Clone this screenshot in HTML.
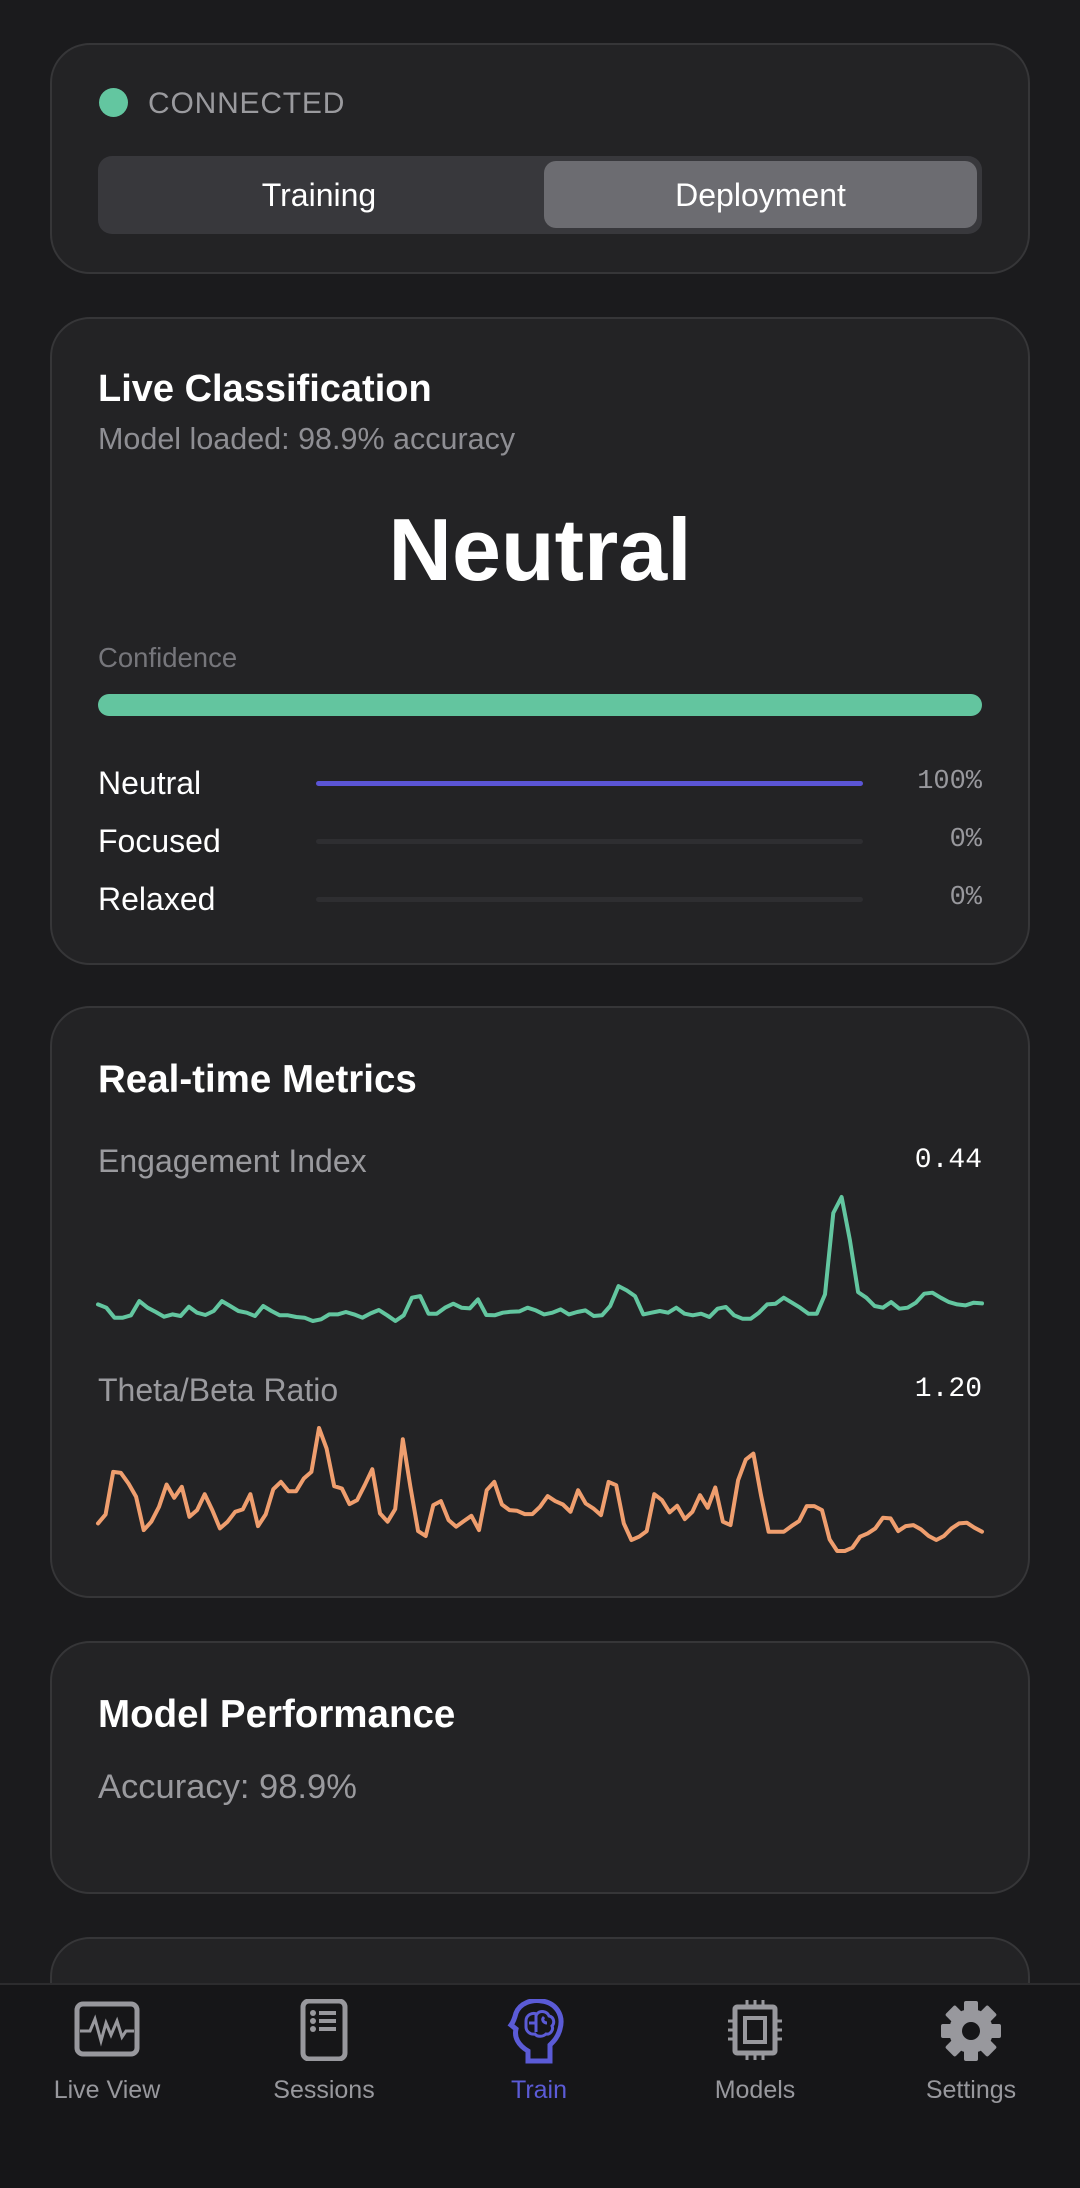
<!DOCTYPE html>
<html><head><meta charset="utf-8">
<style>
*{margin:0;padding:0;box-sizing:border-box}
body{width:1080px;height:2188px;background:#1b1b1d;font-family:"Liberation Sans",sans-serif;position:relative;overflow:hidden;color:#fff}
.card{position:absolute;left:50px;width:980px;background:#232325;border:2px solid #363638;border-radius:40px}
.t{position:absolute;white-space:nowrap;line-height:1}
.mono{font-family:"Liberation Mono",monospace}
.track{position:absolute;left:315px;width:547px;height:5px;border-radius:3px;background:#2e2e31}
.tab{position:absolute;top:1999px;width:180px;height:130px;text-align:center;color:#98989d;font-size:25px}
.tab svg{display:block;margin:0 auto}
.tab span{position:absolute;left:0;right:0;top:77px}
</style></head><body>
<div class="card" style="top:43px;height:231px">
  <div style="position:absolute;left:47px;top:43px;width:29px;height:29px;border-radius:50%;background:#63c6a0"></div>
  <div class="t" style="left:96px;top:44px;font-size:30px;letter-spacing:0.8px;color:#9a9a9e">CONNECTED</div>
  <div style="position:absolute;left:46px;top:111px;width:884px;height:78px;background:#38383c;border-radius:14px">
    <div class="t" style="left:0;width:442px;top:23px;text-align:center;font-size:32px;color:#fff">Training</div>
    <div style="position:absolute;left:446px;top:5px;width:433px;height:67px;background:#6c6c71;border-radius:12px"></div>
    <div class="t" style="left:446px;width:433px;top:23px;text-align:center;font-size:32px;color:#fff">Deployment</div>
  </div>
</div>

<div class="card" style="top:317px;height:648px">
  <div class="t" style="left:46px;top:51px;font-size:38px;font-weight:bold">Live Classification</div>
  <div class="t" style="left:46px;top:105px;font-size:30.5px;color:#8e8e93">Model loaded: 98.9% accuracy</div>
  <div class="t" style="left:0;width:976px;text-align:center;top:187px;font-size:88px;font-weight:bold">Neutral</div>
  <div class="t" style="left:46px;top:325px;font-size:27.5px;color:#76767b">Confidence</div>
  <div style="position:absolute;left:46px;top:375px;width:884px;height:22px;background:#63c59f;border-radius:11px"></div>
  <div class="t" style="left:46px;top:448px;font-size:32px">Neutral</div>
  <div class="track" style="top:462px;left:264px;background:#5b55d6"></div>
  <div class="t mono" style="right:46px;top:450px;font-size:27px;color:#98989d">100%</div>
  <div class="t" style="left:46px;top:506px;font-size:32px">Focused</div>
  <div class="track" style="top:520px;left:264px"></div>
  <div class="t mono" style="right:46px;top:508px;font-size:27px;color:#98989d">0%</div>
  <div class="t" style="left:46px;top:564px;font-size:32px">Relaxed</div>
  <div class="track" style="top:578px;left:264px"></div>
  <div class="t mono" style="right:46px;top:566px;font-size:27px;color:#98989d">0%</div>
</div>

<div class="card" style="top:1006px;height:592px">
  <div class="t" style="left:46px;top:53px;font-size:38.5px;font-weight:bold">Real-time Metrics</div>
  <div class="t" style="left:46px;top:137px;font-size:32px;color:#9a9a9e">Engagement Index</div>
  <div class="t mono" style="right:46px;top:139px;font-size:28px">0.44</div>
  <div class="t" style="left:46px;top:366px;font-size:32px;color:#9a9a9e">Theta/Beta Ratio</div>
  <div class="t mono" style="right:46px;top:368px;font-size:28px">1.20</div>
</div>
<svg id="spark" width="1080" height="2188" style="position:absolute;left:0;top:0;pointer-events:none"></svg>

<div class="card" style="top:1641px;height:253px">
  <div class="t" style="left:46px;top:53px;font-size:38.5px;font-weight:bold">Model Performance</div>
  <div class="t" style="left:46px;top:127px;font-size:34.5px;color:#9a9a9e">Accuracy: 98.9%</div>
</div>
<div class="card" style="top:1937px;height:200px"></div>

<div style="position:absolute;left:0;top:1983px;width:1080px;height:205px;background:#161618;border-top:2px solid #2c2c2e">
</div>
<div class="tab" style="left:17px">
  <svg width="70" height="60" viewBox="0 0 70 60"><rect x="5" y="5" width="60" height="50" rx="6" fill="none" stroke="#98989d" stroke-width="5"/><polyline points="8,32 18,32 23,20 29,42 34,24 39,36 45,22 50,38 54,32 62,32" fill="none" stroke="#98989d" stroke-width="3"/></svg>
  <span>Live View</span></div>
<div class="tab" style="left:234px">
  <svg width="70" height="62" viewBox="0 0 70 62"><rect x="14" y="2" width="42" height="58" rx="6" fill="none" stroke="#98989d" stroke-width="5"/><g fill="#98989d"><circle cx="24" cy="14" r="3"/><circle cx="24" cy="22" r="3"/><circle cx="24" cy="30" r="3"/><rect x="30" y="12" width="17" height="4"/><rect x="30" y="20" width="17" height="4"/><rect x="30" y="28" width="17" height="4"/></g></svg>
  <span>Sessions</span></div>
<div class="tab" style="left:449px;color:#5b5bd6">
  <svg width="70" height="66" viewBox="0 0 70 66"><path d="M24 62 V52 C14 46 10 38 12 30 L7 26 C10 22 11 18 12 14 C16 4 28 0 38 2 C52 4 60 16 56 30 C54 38 50 42 46 46 V62 Z" fill="none" stroke="#5b5bd6" stroke-width="5"/><path d="M22 22c0-6 6-9 11-7 3-4 10-3 12 2 5 1 6 7 3 10 2 4-2 9-6 8-3 3-9 3-11 0-5 1-9-3-9-7z M32 15v18 M40 18c-3 3 0 6 3 6 M25 24h6" fill="none" stroke="#5b5bd6" stroke-width="3"/></svg>
  <span>Train</span></div>
<div class="tab" style="left:665px">
  <svg width="70" height="62" viewBox="0 0 70 62"><rect x="15" y="8" width="40" height="46" rx="2" fill="none" stroke="#98989d" stroke-width="5"/><rect x="25" y="19" width="20" height="24" fill="none" stroke="#98989d" stroke-width="4"/><g stroke="#98989d" stroke-width="3"><path d="M27 1v7M35 1v7M43 1v7M27 54v7M35 54v7M43 54v7M8 22h7M8 31h7M8 40h7M55 22h7M55 31h7M55 40h7"/></g></svg>
  <span>Models</span></div>
<div class="tab" style="left:881px">
  <svg width="70" height="64" viewBox="0 0 70 64"><g fill="#98989d" transform="translate(35,32)"><circle r="22"/><rect x="-7" y="-30" width="14" height="14" rx="2"/><rect x="-7" y="-30" width="14" height="14" rx="2" transform="rotate(45)"/><rect x="-7" y="-30" width="14" height="14" rx="2" transform="rotate(90)"/><rect x="-7" y="-30" width="14" height="14" rx="2" transform="rotate(135)"/><rect x="-7" y="-30" width="14" height="14" rx="2" transform="rotate(180)"/><rect x="-7" y="-30" width="14" height="14" rx="2" transform="rotate(225)"/><rect x="-7" y="-30" width="14" height="14" rx="2" transform="rotate(270)"/><rect x="-7" y="-30" width="14" height="14" rx="2" transform="rotate(315)"/></g><circle cx="35" cy="32" r="9" fill="#161618"/></svg>
  <span>Settings</span></div>

<script>
const engagementValues=[0.65,0.55,0.25,0.25,0.32,0.75,0.55,0.42,0.28,0.35,0.30,0.58,0.40,0.33,0.45,0.75,0.60,0.45,0.40,0.30,0.60,0.45,0.32,0.32,0.27,0.25,0.15,0.20,0.35,0.35,0.42,0.35,0.25,0.38,0.48,0.32,0.15,0.32,0.85,0.90,0.37,0.37,0.55,0.67,0.55,0.53,0.80,0.33,0.32,0.40,0.43,0.44,0.55,0.47,0.35,0.40,0.50,0.35,0.42,0.47,0.30,0.32,0.60,1.20,1.07,0.90,0.35,0.40,0.45,0.40,0.55,0.37,0.32,0.37,0.27,0.52,0.57,0.32,0.22,0.22,0.40,0.65,0.67,0.85,0.70,0.55,0.37,0.37,0.95,3.40,3.88,2.60,1.02,0.85,0.60,0.55,0.72,0.52,0.55,0.70,0.97,1.00,0.85,0.72,0.65,0.62,0.70,0.68];
const thetaBetaValues=[1.15,1.42,2.70,2.67,2.35,1.95,0.95,1.20,1.65,2.32,1.92,2.25,1.35,1.55,2.03,1.55,1.00,1.20,1.50,1.57,2.03,1.07,1.42,2.18,2.40,2.12,2.12,2.50,2.70,4.02,3.40,2.27,2.20,1.73,1.85,2.30,2.78,1.45,1.20,1.58,3.68,2.25,0.92,0.77,1.70,1.82,1.25,1.05,1.22,1.38,0.95,2.15,2.40,1.72,1.55,1.53,1.43,1.43,1.65,1.97,1.82,1.72,1.50,2.15,1.75,1.60,1.40,2.40,2.30,1.15,0.65,0.75,0.92,2.03,1.85,1.48,1.68,1.28,1.50,2.00,1.62,2.23,1.20,1.10,2.45,3.07,3.25,2.00,0.90,0.90,0.90,1.07,1.22,1.67,1.67,1.55,0.67,0.32,0.32,0.42,0.75,0.85,1.00,1.32,1.30,0.92,1.07,1.10,0.97,0.77,0.65,0.77,1.00,1.15,1.17,1.02,0.90];
const svg=document.getElementById('spark');
const NS='http://www.w3.org/2000/svg';
function drawLine(vals,x0,x1,yTop,yBot,color,name){
  const mn=Math.min(...vals),mx=Math.max(...vals);
  const xs=i=>x0+(x1-x0)*i/(vals.length-1);
  const ys=v=>yBot-(yBot-yTop)*(v-mn)/(mx-mn);
  const pts=vals.map((v,i)=>xs(i).toFixed(1)+','+ys(v).toFixed(1)).join(' ');
  const pl=document.createElementNS(NS,'polyline');
  pl.setAttribute('points',pts);
  pl.setAttribute('fill','none');pl.setAttribute('stroke',color);
  pl.setAttribute('stroke-width','4');pl.setAttribute('stroke-linejoin','round');pl.setAttribute('stroke-linecap','round');
  
  
  svg.appendChild(pl);
}
drawLine(engagementValues,98,982,1197,1321,'#63c6a0','engagement-sparkline');
drawLine(thetaBetaValues,98,982,1428,1551,'#ef9e6e','theta-beta-sparkline');
</script>
</body></html>
